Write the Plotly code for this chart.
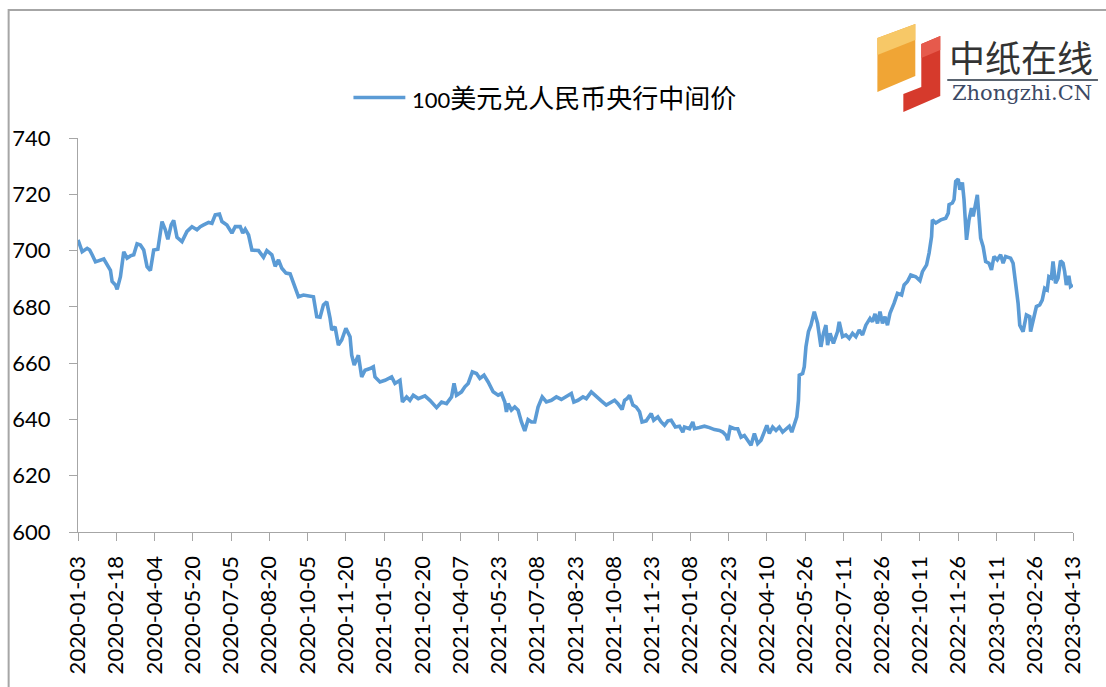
import plotly.graph_objects as go

# ---------------- data ----------------
series_name = "100美元兑人民币央行中间价"

dates_2020 = ["2020-01-03","2020-01-08","2020-01-14","2020-01-17","2020-01-20","2020-01-24","2020-02-03","2020-02-07",
              "2020-02-11","2020-02-13","2020-02-17","2020-02-19","2020-02-23","2020-02-27","2020-03-02","2020-03-06",
              "2020-03-10","2020-03-14","2020-03-18","2020-03-22","2020-03-26","2020-03-30","2020-04-03","2020-04-08",
              "2020-04-13","2020-04-17","2020-04-20","2020-04-24","2020-04-27","2020-05-01","2020-05-07","2020-05-13",
              "2020-05-19","2020-05-25","2020-05-29","2020-06-02","2020-06-08","2020-06-12","2020-06-16","2020-06-21",
              "2020-06-24","2020-06-30","2020-07-06","2020-07-10","2020-07-16","2020-07-19","2020-07-22","2020-07-26",
              "2020-07-30","2020-08-07","2020-08-13","2020-08-17","2020-08-23","2020-08-27","2020-08-31","2020-09-04",
              "2020-09-09","2020-09-14","2020-09-18","2020-09-24","2020-09-30","2020-10-06","2020-10-12","2020-10-16",
              "2020-10-20","2020-10-24","2020-10-28","2020-11-01","2020-11-03","2020-11-07","2020-11-11","2020-11-15",
              "2020-11-20","2020-11-25","2020-11-27","2020-11-30","2020-12-05","2020-12-09","2020-12-13","2020-12-19",
              "2020-12-23","2020-12-25","2020-12-31"]
vals_2020 = [703.8,699.6,700.8,700.2,698.5,696.0,697.0,695.0,
             693.0,689.0,687.8,686.2,690.7,699.6,697.3,698.1,
             698.5,702.4,702.0,700.2,694.3,692.9,700.2,700.5,
             710.3,707.4,704.0,709.1,710.7,704.7,703.2,706.8,
             708.5,707.4,708.5,709.1,710.0,709.7,712.7,713.0,
             710.3,709.1,706.2,708.5,708.5,706.2,707.6,705.6,
             700.2,700.0,697.6,700.0,698.5,694.4,696.7,693.7,
             692.0,691.7,688.4,683.6,684.2,683.9,683.6,676.5,
             676.3,680.7,681.8,675.9,671.8,672.9,666.4,668.2,
             672.4,669.4,662.8,659.3,662.8,655.1,657.5,658.1,
             658.7,655.1,653.3]

dates_2021 = ["2021-01-06","2021-01-14","2021-01-18","2021-01-24","2021-01-27","2021-02-01","2021-02-05","2021-02-09",
              "2021-02-15","2021-02-23","2021-03-01","2021-03-09","2021-03-15","2021-03-21","2021-03-27","2021-03-30",
              "2021-04-02","2021-04-08","2021-04-12","2021-04-16","2021-04-21","2021-04-26","2021-04-30","2021-05-05",
              "2021-05-10","2021-05-16","2021-05-22","2021-05-26","2021-05-30","2021-06-01","2021-06-03","2021-06-07",
              "2021-06-11","2021-06-15","2021-06-19","2021-06-23","2021-06-27","2021-07-01","2021-07-05","2021-07-09",
              "2021-07-14","2021-07-19","2021-07-25","2021-07-31","2021-08-06","2021-08-12","2021-08-18","2021-08-21",
              "2021-08-26","2021-09-01","2021-09-05","2021-09-11","2021-09-17","2021-09-23","2021-09-29","2021-10-05",
              "2021-10-09","2021-10-13","2021-10-18","2021-10-21","2021-10-24","2021-10-27","2021-10-31","2021-11-04",
              "2021-11-08","2021-11-11","2021-11-16","2021-11-22","2021-11-25","2021-11-30","2021-12-04","2021-12-08",
              "2021-12-12","2021-12-16","2021-12-21","2021-12-26","2021-12-30"]
vals_2021 = [653.9,655.1,652.8,653.9,646.2,648.0,646.8,648.6,
             647.4,648.4,646.8,644.2,646.2,645.6,648.0,652.8,
             648.6,649.8,651.6,652.8,656.9,656.3,654.6,655.7,
             653.3,649.8,648.6,649.2,646.2,642.7,645.6,643.3,
             644.4,643.3,639.1,635.9,639.9,639.1,639.1,644.4,
             648.0,646.2,646.8,648.0,647.1,648.0,649.2,646.2,
             646.8,648.0,647.4,649.8,648.0,646.6,645.1,646.2,
             646.8,645.6,643.5,646.8,647.4,648.6,645.1,644.4,
             642.7,639.1,639.5,642.1,639.7,640.9,639.1,637.9,
             639.5,639.7,637.3,637.6,635.5]

dates_2022 = ["2022-01-01","2022-01-07","2022-01-11","2022-01-13","2022-01-19","2022-01-25","2022-01-31","2022-02-06",
              "2022-02-12","2022-02-16","2022-02-20","2022-02-22","2022-02-25","2022-03-02","2022-03-06","2022-03-10",
              "2022-03-14","2022-03-18","2022-03-22","2022-03-26","2022-03-30","2022-04-03","2022-04-07","2022-04-10",
              "2022-04-13","2022-04-17","2022-04-21","2022-04-25","2022-04-29","2022-05-03","2022-05-07","2022-05-10",
              "2022-05-13","2022-05-16","2022-05-18","2022-05-19","2022-05-23","2022-05-25","2022-05-27","2022-05-30",
              "2022-06-02","2022-06-06","2022-06-10","2022-06-14","2022-06-17","2022-06-20","2022-06-22","2022-06-25",
              "2022-06-29","2022-07-04","2022-07-06","2022-07-10","2022-07-14","2022-07-18","2022-07-22","2022-07-26",
              "2022-07-30","2022-08-03","2022-08-07","2022-08-12","2022-08-15","2022-08-18","2022-08-21","2022-08-24",
              "2022-08-27","2022-08-30","2022-09-02","2022-09-05","2022-09-10","2022-09-14","2022-09-19","2022-09-22",
              "2022-09-26","2022-09-30","2022-10-06","2022-10-11","2022-10-14","2022-10-19","2022-10-22","2022-10-25",
              "2022-10-26","2022-10-30","2022-11-05","2022-11-11","2022-11-14","2022-11-15","2022-11-19","2022-11-21",
              "2022-11-23","2022-11-26","2022-11-28","2022-12-01","2022-12-03","2022-12-05","2022-12-06","2022-12-09",
              "2022-12-12","2022-12-14","2022-12-17","2022-12-19","2022-12-21","2022-12-23","2022-12-26","2022-12-29"]
vals_2022 = [637.3,636.7,639.1,636.7,637.1,637.6,637.1,636.4,
             636.1,635.5,634.3,632.6,637.3,636.7,636.7,633.7,
             634.3,632.6,630.8,635.0,631.4,632.6,635.5,637.9,
             635.0,637.3,636.1,637.3,635.5,636.7,637.6,635.5,
             638.5,640.9,646.8,655.7,656.3,658.7,665.8,671.2,
             673.5,678.3,674.1,665.8,670.6,673.5,666.4,670.6,
             667.0,671.2,674.7,669.4,670.0,668.8,670.6,669.4,
             671.8,670.0,673.5,675.9,674.7,677.5,674.1,678.3,
             674.1,676.5,673.5,677.7,681.3,684.8,684.2,687.8,
             689.0,691.3,690.7,689.3,692.5,694.9,699.1,705.0,
             710.9,709.8,710.9,711.5,713.3,716.3,716.9,718.1,
             724.6,725.4,721.6,724.2,718.1,707.4,703.8,710.9,
             715.1,712.1,716.9,719.8,712.1,704.4,701.4,696.1]

dates_2023 = ["2023-01-02","2023-01-05","2023-01-08","2023-01-12","2023-01-16","2023-01-19","2023-01-22","2023-01-28",
              "2023-01-31","2023-02-03","2023-02-06","2023-02-08","2023-02-12","2023-02-16","2023-02-20","2023-02-21",
              "2023-02-25","2023-02-28","2023-03-04","2023-03-07","2023-03-10","2023-03-13","2023-03-15","2023-03-18",
              "2023-03-20","2023-03-23","2023-03-26","2023-03-29","2023-04-01","2023-04-03","2023-04-05","2023-04-08",
              "2023-04-10","2023-04-13"]
vals_2023 = [695.5,693.1,697.9,696.7,698.5,695.5,697.9,697.3,
             695.5,688.4,681.3,673.5,671.2,677.1,676.5,671.2,
             676.5,680.1,680.7,682.4,686.6,686.0,690.7,690.2,
             696.1,688.4,690.2,696.4,695.5,692.5,687.8,691.0,
             687.2,687.8]

x_tick_dates = ["2020-01-03","2020-02-18","2020-04-04","2020-05-20","2020-07-05","2020-08-20","2020-10-05",
                "2020-11-20","2021-01-05","2021-02-20","2021-04-07","2021-05-23","2021-07-08","2021-08-23",
                "2021-10-08","2021-11-23","2022-01-08","2022-02-23","2022-04-10","2022-05-26","2022-07-11",
                "2022-08-26","2022-10-11","2022-11-26","2023-01-11","2023-02-26","2023-04-13"]
y_tick_vals = [600, 620, 640, 660, 680, 700, 720, 740]

dates = dates_2020 + dates_2021 + dates_2022 + dates_2023
values = vals_2020 + vals_2021 + vals_2022 + vals_2023

# ---------------- layout geometry ----------------
W, H = 1106, 687
ML, MR, MT, MB = 76, 33, 138, 155
PW, PH = W - ML - MR, H - MT - MB


def px(X, Y):
    """pixel position -> paper coordinates"""
    return (X - ML) / PW, (H - MB - Y) / PH


def path(points):
    s = ""
    for i, (X, Y) in enumerate(points):
        a, b = px(X, Y)
        s += ("M" if i == 0 else "L") + f"{a:.5f},{b:.5f} "
    return s + "Z"


LINE_COLOR = "#5B9BD5"
AXIS_COLOR = "#A6A6A6"
FONT = "Lato, 'Noto Sans CJK SC', sans-serif"

fig = go.Figure()
fig.add_trace(go.Scatter(
    x=dates, y=values, mode="lines", name=series_name,
    line=dict(color=LINE_COLOR, width=3.6), showlegend=False,
))

shapes = []
# chart frame
fx0, fy0 = px(6.5, 720)
fx1, fy1 = px(1120, 10)
shapes.append(dict(type="rect", xref="paper", yref="paper", x0=fx0, y0=fy0, x1=fx1, y1=fy1,
                   line=dict(color="#A6A6A6", width=2), fillcolor="rgba(0,0,0,0)", layer="below"))
# legend sample line
lx0, ly = px(352, 97.5)
lx1, _ = px(404, 97.5)
shapes.append(dict(type="line", xref="paper", yref="paper", x0=lx0, y0=ly, x1=lx1, y1=ly,
                   line=dict(color=LINE_COLOR, width=3.5)))
# logo: orange block
shapes.append(dict(type="path", xref="paper", yref="paper",
                   path=path([(877, 38), (915, 24), (915, 76), (877, 92)]),
                   fillcolor="#F0A535", line=dict(width=0)))
shapes.append(dict(type="path", xref="paper", yref="paper",
                   path=path([(877, 38), (915, 24), (915, 40), (877, 55)]),
                   fillcolor="#F7C867", line=dict(width=0)))
# logo: red L block
shapes.append(dict(type="path", xref="paper", yref="paper",
                   path=path([(921, 44), (940, 36), (940, 96), (903, 112), (903, 94), (921, 87)]),
                   fillcolor="#D63A2C", line=dict(width=0)))
shapes.append(dict(type="path", xref="paper", yref="paper",
                   path=path([(921, 44), (940, 36), (940, 50), (921, 58)]),
                   fillcolor="#E65A4C", line=dict(width=0)))
# logo underline
ux0, uy = px(947, 80)
ux1, _ = px(1098, 80)
shapes.append(dict(type="line", xref="paper", yref="paper", x0=ux0, y0=uy, x1=ux1, y1=uy,
                   line=dict(color="#5A6470", width=2)))

annotations = []
tx, ty = px(409, 97.5)
annotations.append(dict(xref="paper", yref="paper", x=tx, y=ty, xanchor="left", yanchor="middle",
                        text="<span style='font-size:22px'>100</span>美元兑人民币央行中间价", showarrow=False,
                        font=dict(family=FONT, size=26, color="#000000")))
cx, cy = px(1021, 56)
annotations.append(dict(xref="paper", yref="paper", x=cx, y=cy, xanchor="center", yanchor="middle",
                        text="中纸在线", showarrow=False,
                        font=dict(family="'Noto Sans CJK SC', sans-serif", size=36, color="#333333")))
zx, zy = px(1022, 93)
annotations.append(dict(xref="paper", yref="paper", x=zx, y=zy, xanchor="center", yanchor="middle",
                        text="Zhongzhi.CN", showarrow=False,
                        font=dict(family="'DejaVu Serif', serif", size=21, color="#3C4A66")))

fig.update_layout(
    width=W, height=H,
    margin=dict(l=ML, r=MR, t=MT, b=MB, pad=0),
    paper_bgcolor="#FFFFFF", plot_bgcolor="#FFFFFF",
    font=dict(family=FONT, size=21, color="#000000"),
    shapes=shapes, annotations=annotations,
    showlegend=False,
    xaxis=dict(
        type="date", range=[x_tick_dates[0], x_tick_dates[-1]],
        tickmode="array", tickvals=x_tick_dates, ticktext=x_tick_dates,
        tickangle=-90, ticks="outside", ticklen=8, tickwidth=1, tickcolor=AXIS_COLOR,
        showline=True, linecolor=AXIS_COLOR, linewidth=1.3,
        showgrid=False, zeroline=False, ticklabelstandoff=6,
        tickfont=dict(family=FONT, size=22, color="#000000"),
    ),
    yaxis=dict(
        range=[600, 740], tickmode="array", tickvals=y_tick_vals,
        ticks="outside", ticklen=8, tickwidth=1, tickcolor=AXIS_COLOR,
        showline=True, linecolor=AXIS_COLOR, linewidth=1.3,
        showgrid=False, zeroline=False, ticklabelstandoff=14,
        tickfont=dict(family=FONT, size=22, color="#000000"),
    ),
)

fig.write_html(
    "out.html",
    config={"displayModeBar": False},
    post_script="document.body.style.margin='0';document.body.style.overflow='hidden';",
)
